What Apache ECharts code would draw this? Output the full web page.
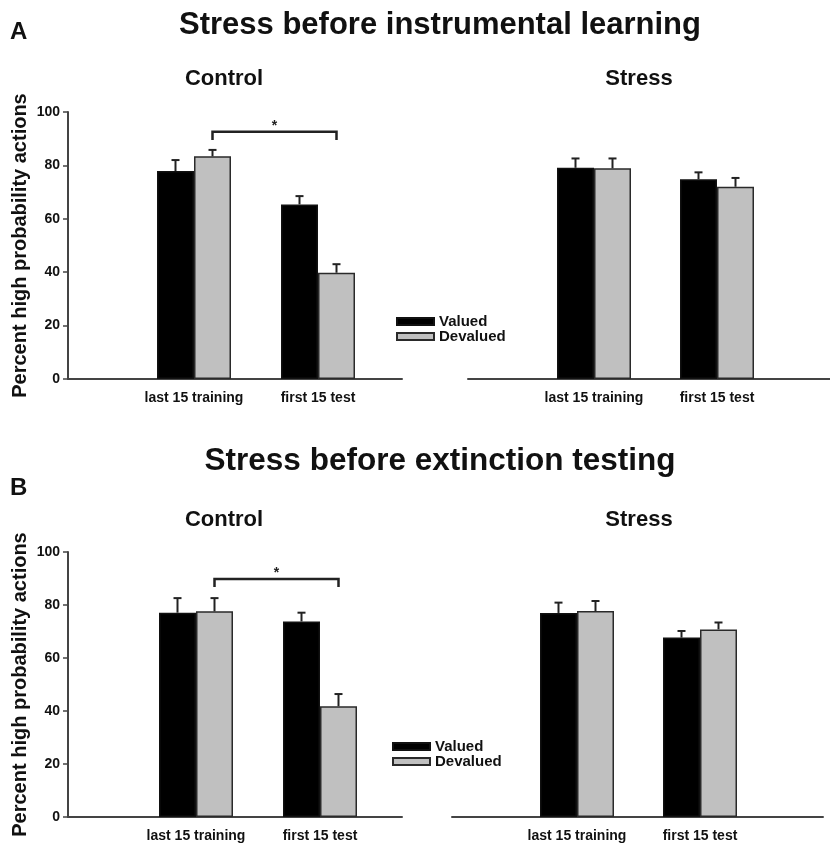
<html>
<head>
<meta charset="UTF-8">
<title>Stress and instrumental learning</title>
<script type="text/javascript" src="https://cdn.jsdelivr.net/npm/echarts@6/dist/echarts.min.js"></script>
<style>
	body { margin: 0; background: #fff; }
	#chart { width: 830px; height: 844px; }
</style>
</head>
<body>
	<div id="chart"></div>
	<script type="text/javascript">
		var categories = ['last 15 training', 'first 15 test'];
		var yTicks = [0, 20, 40, 60, 80, 100];

		// A: stress before instrumental learning
		var aControlValued = [77.9, 65.4];
		var aControlValuedErr = [4.1, 3.1];
		var aControlDevalued = [83.4, 39.8];
		var aControlDevaluedErr = [2.4, 3.2];
		var aStressValued = [79.1, 74.8];
		var aStressValuedErr = [3.5, 2.6];
		var aStressDevalued = [78.9, 72.0];
		var aStressDevaluedErr = [3.7, 3.3];

		// B: stress before extinction testing
		var bControlValued = [77.1, 73.8];
		var bControlValuedErr = [5.5, 3.3];
		var bControlDevalued = [77.6, 41.8];
		var bControlDevaluedErr = [5.0, 4.6];
		var bStressValued = [77.0, 67.7];
		var bStressValuedErr = [3.9, 2.5];
		var bStressDevalued = [77.7, 70.8];
		var bStressDevaluedErr = [3.8, 2.6];

		// significance brackets: [from cat, to cat, top, leg end]
		var aBracket = [0, 1, 92.6, 89.5];
		var bBracket = [0, 1, 89.8, 86.8];

		var BAR_W = 37;
		var FONT = "'Liberation Sans', Arial, sans-serif";

		var grids = [
			{ left: 68, width: 334, top: 112, height: 267 },     // A left axes
			{ left: 132, width: 248, top: 112, height: 267 },    // A left bars
			{ left: 468, width: 362, top: 112, height: 267 },    // A right axes
			{ left: 532.5, width: 246, top: 112, height: 267 },  // A right bars
			{ left: 68, width: 334, top: 552, height: 265 },     // B left axes
			{ left: 134, width: 248, top: 552, height: 265 },    // B left bars
			{ left: 452, width: 371, top: 552, height: 265 },    // B right axes
			{ left: 515.5, width: 246, top: 552, height: 265 }   // B right bars
		];

		var xAxes = [];
		var yAxes = [];
		for (var g = 0; g < grids.length; g++) {
			if (g % 2 == 0) {
				// baseline only
				xAxes.push({
					gridIndex: g, type: 'value', min: 0, max: 1,
					axisLine: { show: true, lineStyle: { color: '#444', width: 2 } },
					axisTick: { show: false }, axisLabel: { show: false }, splitLine: { show: false }
				});
				var withY = (g == 0 || g == 4);
				yAxes.push({
					gridIndex: g, type: 'value', min: 0, max: 100, interval: 20,
					show: withY,
					name: 'Percent high probability actions',
					nameLocation: 'middle', nameGap: 38,
					nameTextStyle: { fontFamily: FONT, fontWeight: 'bold', fontSize: 20, color: '#111' },
					axisLine: { show: true, lineStyle: { color: '#444', width: 2 } },
					axisTick: { show: true, length: 5, lineStyle: { color: '#444', width: 1.5 } },
					axisLabel: {
						margin: 8, fontFamily: FONT, fontWeight: 'bold', fontSize: 14, color: '#111',
						formatter: function (v) { return yTicks.indexOf(v) >= 0 ? String(v) : ''; }
					},
					splitLine: { show: false }
				});
			} else {
				xAxes.push({
					gridIndex: g, type: 'category', data: categories,
					axisLine: { show: false }, axisTick: { show: false },
					axisLabel: { interval: 0, margin: 12, fontFamily: FONT, fontWeight: 'bold', fontSize: 14, color: '#111' }
				});
				yAxes.push({ gridIndex: g, type: 'value', min: 0, max: 100, show: false, splitLine: { show: false } });
			}
		}

		function barSeries(name, grid, values) {
			var gray = name == 'Devalued';
			return {
				name: name, type: 'bar', xAxisIndex: grid, yAxisIndex: grid,
				data: values, barWidth: BAR_W, barGap: '0%',
				itemStyle: {
					color: gray ? '#c0c0c0' : '#000',
					borderColor: gray ? '#2a2a2a' : '#111',
					borderWidth: 1.5
				},
				emphasis: { disabled: true }
			};
		}

		function errData(valued, valuedErr, devalued, devaluedErr) {
			var out = [];
			for (var i = 0; i < categories.length; i++) {
				out.push([i, valued[i], valuedErr[i], -1]);
				out.push([i, devalued[i], devaluedErr[i], 1]);
			}
			return out;
		}

		function renderErr(params, api) {
			var c = api.value(0), v = api.value(1), e = api.value(2), s = api.value(3);
			var base = api.coord([c, v]);
			var top = api.coord([c, v + e]);
			var x = base[0] + s * BAR_W / 2;
			var st = { stroke: '#222', lineWidth: 2 };
			return {
				type: 'group',
				children: [
					{ type: 'line', shape: { x1: x, y1: base[1], x2: x, y2: top[1] }, style: st },
					{ type: 'line', shape: { x1: x - 4, y1: top[1], x2: x + 4, y2: top[1] }, style: st }
				]
			};
		}

		function errSeries(grid, data) {
			return {
				name: 'err' + grid, type: 'custom', xAxisIndex: grid, yAxisIndex: grid,
				renderItem: renderErr, data: data, encode: { x: 0, y: 1 }, z: 5, silent: true
			};
		}

		function renderBracket(params, api) {
			var x0 = api.coord([api.value(0), 0])[0] + BAR_W / 2;
			var x1 = api.coord([api.value(1), 0])[0] + BAR_W / 2;
			var yTop = api.coord([0, api.value(2)])[1];
			var yLeg = api.coord([0, api.value(3)])[1];
			return {
				type: 'group',
				children: [
					{
						type: 'polyline',
						shape: { points: [[x0, yLeg], [x0, yTop], [x1, yTop], [x1, yLeg]] },
						style: { stroke: '#222', lineWidth: 2.5, fill: null }
					},
					{
						type: 'text',
						style: {
							text: '*', x: (x0 + x1) / 2, y: yTop - 13, align: 'center', verticalAlign: 'top',
							font: 'bold 14px ' + FONT, fill: '#222'
						}
					}
				]
			};
		}

		function bracketSeries(grid, b) {
			return {
				name: 'sig' + grid, type: 'custom', xAxisIndex: grid, yAxisIndex: grid,
				renderItem: renderBracket, data: [b], encode: { x: [0, 1], y: [2, 3] }, z: 5, silent: true
			};
		}

		var series = [
			barSeries('Valued', 1, aControlValued),
			barSeries('Devalued', 1, aControlDevalued),
			barSeries('Valued', 3, aStressValued),
			barSeries('Devalued', 3, aStressDevalued),
			barSeries('Valued', 5, bControlValued),
			barSeries('Devalued', 5, bControlDevalued),
			barSeries('Valued', 7, bStressValued),
			barSeries('Devalued', 7, bStressDevalued),
			errSeries(1, errData(aControlValued, aControlValuedErr, aControlDevalued, aControlDevaluedErr)),
			errSeries(3, errData(aStressValued, aStressValuedErr, aStressDevalued, aStressDevaluedErr)),
			errSeries(5, errData(bControlValued, bControlValuedErr, bControlDevalued, bControlDevaluedErr)),
			errSeries(7, errData(bStressValued, bStressValuedErr, bStressDevalued, bStressDevaluedErr)),
			bracketSeries(1, aBracket),
			bracketSeries(5, bBracket)
		];

		function legendAt(left, top) {
			return {
				data: ['Valued', 'Devalued'], orient: 'vertical', left: left, top: top, padding: 0,
				icon: 'rect', itemWidth: 37, itemHeight: 7, itemGap: 0, selectedMode: false,
				textStyle: { fontFamily: FONT, fontWeight: 'bold', fontSize: 15, color: '#111' }
			};
		}

		function titleAt(text, left, top, size, align) {
			return {
				text: text, left: left, top: top, textAlign: align || 'center', padding: 0,
				textStyle: { fontFamily: FONT, fontWeight: 'bold', fontSize: size, color: '#111' }
			};
		}

		var myChart = echarts.init(document.getElementById('chart'), null, { renderer: 'canvas' });
		myChart.setOption({
			animation: false,
			backgroundColor: '#fff',
			title: [
				titleAt('A', 10, 20, 24, 'left'),
				titleAt('Stress before instrumental learning', 440, 10, 31),
				titleAt('Control', 224, 68, 22),
				titleAt('Stress', 639, 68, 22),
				titleAt('B', 10, 476, 24, 'left'),
				titleAt('Stress before extinction testing', 440, 445, 31.5),
				titleAt('Control', 224, 509, 22),
				titleAt('Stress', 639, 509, 22)
			],
			legend: [legendAt(396, 314), legendAt(392, 739)],
			grid: grids,
			xAxis: xAxes,
			yAxis: yAxes,
			series: series
		});
	</script>
</body>
</html>
